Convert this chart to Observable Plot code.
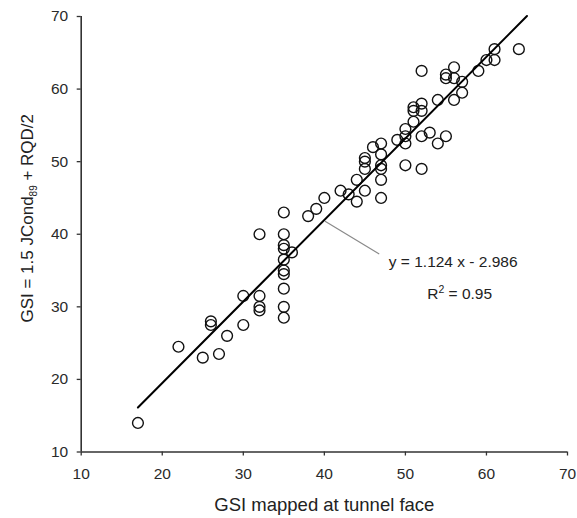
<!DOCTYPE html>
<html>
<head>
<meta charset="utf-8">
<script src="https://cdn.jsdelivr.net/npm/d3@7"></script>
<script src="https://cdn.jsdelivr.net/npm/@observablehq/plot@0.6"></script>
<style>
  html, body { margin: 0; padding: 0; background: #fff; }
  #chart svg { display: block; }
</style>
</head>
<body>
<div id="chart"></div>
<script>
// GSI mapped at tunnel face (x) vs GSI from 1.5 JCond89 + RQD/2 (y)
const gsiFace = [17, 22, 25, 26, 26, 27, 28, 30, 30, 32, 32, 32, 32,
  35, 35, 35, 35, 35, 35, 35, 35, 35, 35, 36, 38, 39, 40, 42, 43, 44, 44,
  45, 45, 45, 45, 46, 47, 47, 47, 47, 47, 47, 49, 50, 50, 50, 50,
  51, 51, 51, 52, 52, 52, 52, 52, 53, 54, 54, 55, 55, 55, 56, 56, 56,
  57, 57, 59, 60, 61, 61, 64];
const gsiCalc = [14, 24.5, 23, 28, 27.5, 23.5, 26, 27.5, 31.5, 31.5, 30, 29.5, 40,
  43, 40, 38.5, 38, 36.5, 35, 34.5, 32.5, 30, 28.5, 37.5, 42.5, 43.5, 45, 46, 45.5, 44.5, 47.5,
  46, 49, 50, 50.5, 52, 52.5, 51, 49.5, 49, 47.5, 45, 53, 54.5, 53.5, 52.5, 49.5,
  57.5, 57, 55.5, 58, 57, 53.5, 49, 62.5, 54, 58.5, 52.5, 53.5, 62, 61.5, 63, 61.5, 58.5,
  61, 59.5, 62.5, 64, 65.5, 64, 65.5];

// Regression line y = 1.124 x - 2.986, drawn between its end points
const fitX = [17, 65];
const fitY = [16.12, 70.07];

// Axis ticks
const xTicks = [10, 20, 30, 40, 50, 60, 70];
const yTicks = [10, 20, 30, 40, 50, 60, 70];

// Texts
const xTitle = "GSI mapped at tunnel face";
const yTitleParts = ["GSI = 1.5 JCond", "89", " + RQD/2"];
const eqText = "y = 1.124 x - 2.986";
const r2Parts = ["R", "2", " = 0.95"];

// Annotation anchors (data units)
const leaderX = [40.14, 46.72];
const leaderY = [41.76, 37.31];
const eqPos = [47.95, 36.12];
const r2Pos = [52.69, 31.77];

const yTitle = yTitleParts.join("");
const r2Text = r2Parts.join("");
const points = gsiFace.map((x, i) => ({x, y: gsiCalc[i]}));
const fit = fitX.map((x, i) => ({x, y: fitY[i]}));
const leader = leaderX.map((x, i) => ({x, y: leaderY[i]}));

const font = "'Liberation Sans', Arial, Helvetica, sans-serif";
const ink = "#1a1a1a";

const chart = Plot.plot({
  width: 577,
  height: 518,
  marginLeft: 80.7,
  marginRight: 10,
  marginTop: 16,
  marginBottom: 66.5,
  style: {fontFamily: font, background: "#fff", color: ink},
  x: {domain: [10, 70]},
  y: {domain: [10, 70]},
  marks: [
    Plot.axisX({ticks: xTicks, tickSize: 4, tickPadding: 12, fontSize: 15.5, label: null, stroke: "#333", strokeWidth: 1.3, fill: "#2a2a2a"}),
    Plot.axisY({ticks: yTicks, tickSize: 4, tickPadding: 9, fontSize: 15.5, label: null, stroke: "#333", strokeWidth: 1.3, fill: "#2a2a2a"}),
    Plot.ruleX([10], {stroke: "#333", strokeWidth: 1.6}),
    Plot.ruleY([10], {stroke: "#333", strokeWidth: 1.6}),
    Plot.dot(points, {x: "x", y: "y", r: 5.4, stroke: "#111", strokeWidth: 1.4, fill: "none"}),
    Plot.line(fit, {x: "x", y: "y", stroke: "#000", strokeWidth: 2}),
    Plot.line(leader, {x: "x", y: "y", stroke: "#8a8a8a", strokeWidth: 1.2}),
    Plot.text([eqText], {x: () => eqPos[0], y: () => eqPos[1], text: d => d, textAnchor: "start", lineAnchor: "middle", fontSize: 15.5, fill: "#222"}),
    Plot.text([r2Text], {x: () => r2Pos[0], y: () => r2Pos[1], text: d => d, textAnchor: "start", lineAnchor: "middle", fontSize: 15.5, fill: "#222"}),
    Plot.text([xTitle], {frameAnchor: "bottom", textAnchor: "middle", lineAnchor: "middle", dy: 53, dx: 0, text: d => d, fontSize: 18.5, fill: "#222"}),
    Plot.text([yTitle], {frameAnchor: "left", textAnchor: "middle", lineAnchor: "middle", rotate: -90, dx: -54, dy: -16, text: d => d, fontSize: 17, fill: "#222"})
  ]
});

// Rebuild sub/superscripts as tspans (text stays real text)
const svg = d3.select(chart);
svg.selectAll("text").filter(function() { return this.textContent === yTitle; }).each(function() {
  const t = d3.select(this);
  t.text(null);
  t.append("tspan").text(yTitleParts[0]);
  t.append("tspan").attr("font-size", 10).attr("dy", 4).text(yTitleParts[1]);
  t.append("tspan").attr("dy", -4).text(yTitleParts[2]);
});
svg.selectAll("text").filter(function() { return this.textContent === r2Text; }).each(function() {
  const t = d3.select(this);
  t.text(null);
  t.append("tspan").text(r2Parts[0]);
  t.append("tspan").attr("font-size", 10.5).attr("dy", -6).text(r2Parts[1]);
  t.append("tspan").attr("dy", 6).text(r2Parts[2]);
});

document.getElementById("chart").appendChild(chart);
</script>
</body>
</html>
